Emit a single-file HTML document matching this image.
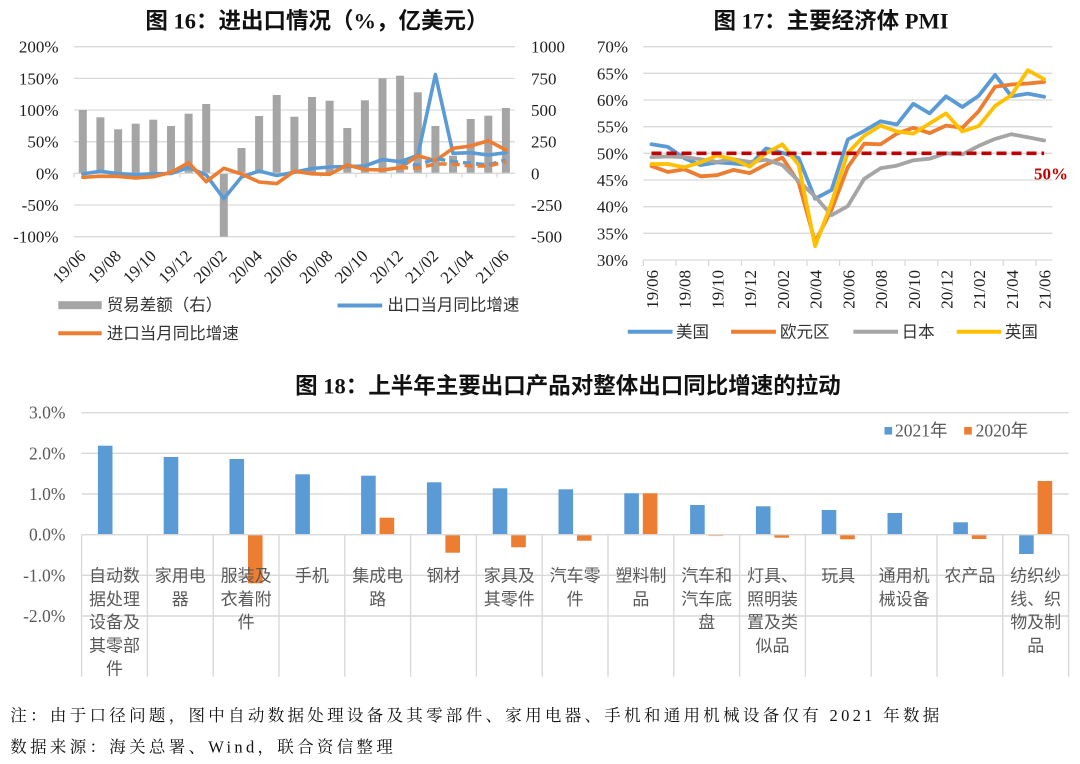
<!DOCTYPE html>
<html><head><meta charset="utf-8"><style>
html,body{margin:0;padding:0;background:#fff;}
svg{display:block;}
.ax{font-family:"Liberation Serif","Noto Serif CJK SC",serif;font-size:17px;fill:#1f1f1f;}
.ax18{font-family:"Liberation Serif","Noto Serif CJK SC",serif;font-size:17.5px;fill:#595959;}
.ttl{font-family:"Liberation Serif","Noto Sans CJK SC",sans-serif;font-size:22.5px;font-weight:bold;fill:#111;}
.lg{font-family:"Liberation Serif","Noto Sans CJK SC",sans-serif;font-size:16.5px;fill:#333;}
.cat{font-family:"Liberation Sans","Noto Sans CJK SC",sans-serif;font-size:17px;fill:#595959;}
.ft{font-family:"Liberation Serif","Noto Serif CJK SC",serif;font-size:16.5px;fill:#111;letter-spacing:3.3px;}
</style></head><body>
<svg width="1080" height="764" viewBox="0 0 1080 764" xmlns="http://www.w3.org/2000/svg">
<rect width="1080" height="764" fill="#fff"/>

<!-- ================= Chart 16 ================= -->
<text class="ttl" x="317" y="28.5" text-anchor="middle">图 16：进出口情况（%，亿美元）</text>
<g stroke="#d9d9d9" stroke-width="1.3">
<line x1="74" y1="46.7" x2="515" y2="46.7"/>
<line x1="74" y1="78.4" x2="515" y2="78.4"/>
<line x1="74" y1="110" x2="515" y2="110"/>
<line x1="74" y1="141.7" x2="515" y2="141.7"/>
<line x1="74" y1="205" x2="515" y2="205"/>
<line x1="74" y1="236.7" x2="515" y2="236.7"/>
</g>
<g class="ax" text-anchor="end">
<text x="58.5" y="52.7">200%</text>
<text x="58.5" y="84.4">150%</text>
<text x="58.5" y="116">100%</text>
<text x="58.5" y="147.7">50%</text>
<text x="58.5" y="179.3">0%</text>
<text x="58.5" y="211">-50%</text>
<text x="58.5" y="242.7">-100%</text>
</g>
<g class="ax" text-anchor="start">
<text x="531" y="52.7">1000</text>
<text x="531" y="84.4">750</text>
<text x="531" y="116">500</text>
<text x="531" y="147.7">250</text>
<text x="531" y="179.3">0</text>
<text x="531" y="211">-250</text>
<text x="531" y="242.7">-500</text>
</g>
<g fill="#a5a5a5">
<rect x="78.8" y="110" width="8" height="63.3"/>
<rect x="96.4" y="117.3" width="8" height="56"/>
<rect x="114.1" y="129.3" width="8" height="44"/>
<rect x="131.7" y="123.7" width="8" height="49.6"/>
<rect x="149.3" y="119.7" width="8" height="53.6"/>
<rect x="167" y="126" width="8" height="47.3"/>
<rect x="184.6" y="113.7" width="8" height="59.6"/>
<rect x="202.2" y="104" width="8" height="69.3"/>
<rect x="219.8" y="173.3" width="8" height="63.4"/>
<rect x="237.5" y="148" width="8" height="25.3"/>
<rect x="255.1" y="116" width="8" height="57.3"/>
<rect x="272.7" y="95" width="8" height="78.3"/>
<rect x="290.4" y="116.7" width="8" height="56.6"/>
<rect x="308" y="97" width="8" height="76.3"/>
<rect x="325.6" y="100.7" width="8" height="72.6"/>
<rect x="343.3" y="128" width="8" height="45.3"/>
<rect x="360.9" y="100.3" width="8" height="73"/>
<rect x="378.5" y="78.3" width="8" height="95"/>
<rect x="396.1" y="75.7" width="8" height="97.6"/>
<rect x="413.8" y="92.3" width="8" height="81"/>
<rect x="431.4" y="126" width="8" height="47.3"/>
<rect x="449" y="155.7" width="8" height="17.6"/>
<rect x="466.7" y="119" width="8" height="54.3"/>
<rect x="484.3" y="115.7" width="8" height="57.6"/>
<rect x="501.9" y="108" width="8" height="65.3"/>
</g>
<!-- axis at 0 -->
<line x1="74" y1="173.3" x2="515" y2="173.3" stroke="#d9d9d9" stroke-width="1.3"/>
<g stroke="#d9d9d9" stroke-width="1.3">
<line x1="74" y1="173.3" x2="74" y2="177.5"/><line x1="109.3" y1="173.3" x2="109.3" y2="177.5"/>
<line x1="144.5" y1="173.3" x2="144.5" y2="177.5"/><line x1="179.8" y1="173.3" x2="179.8" y2="177.5"/>
<line x1="215" y1="173.3" x2="215" y2="177.5"/><line x1="250.3" y1="173.3" x2="250.3" y2="177.5"/>
<line x1="285.6" y1="173.3" x2="285.6" y2="177.5"/><line x1="320.8" y1="173.3" x2="320.8" y2="177.5"/>
<line x1="356.1" y1="173.3" x2="356.1" y2="177.5"/><line x1="391.3" y1="173.3" x2="391.3" y2="177.5"/>
<line x1="426.6" y1="173.3" x2="426.6" y2="177.5"/><line x1="461.9" y1="173.3" x2="461.9" y2="177.5"/>
<line x1="497.1" y1="173.3" x2="497.1" y2="177.5"/>
</g>
<g fill="none" stroke-width="3.6" stroke-linejoin="round" stroke-linecap="round">
<polyline stroke="#5b9bd5" points="82.8,173.9 100.4,171.3 118.1,173.6 135.7,174.6 153.3,173.8 171,173.5 188.6,167.5 206.2,175 223.8,198.7 241.5,177 259.1,171 276.7,175.5 294.4,172.3 312,168.5 329.6,167 347.3,166.5 364.9,166 382.5,159.5 400.1,161.7 417.8,155.5 435.4,74.5 453,153.3 470.7,152.7 488.3,155 505.9,152.7"/>
<polyline stroke="#ed7d31" points="82.8,177.3 100.4,176.2 118.1,176.4 135.7,178 153.3,176.7 171,172.4 188.6,162.7 206.2,181.7 223.8,168.3 241.5,174 259.1,182 276.7,183.6 294.4,171.2 312,173.8 329.6,174.3 347.3,165 364.9,169.5 382.5,170 400.1,167.7 417.8,155.7 435.4,160.7 453,148.3 470.7,146 488.3,140.7 505.9,150"/>
</g>
<g fill="none" stroke-width="3.6" stroke-dasharray="8,5">
<polyline stroke="#5b9bd5" points="400.1,161.7 417.8,165.5 435.4,158.5 453,161.7 470.7,163.3 488.3,165 505.9,160"/>
<polyline stroke="#ed7d31" points="400.1,167.7 417.8,168 435.4,164 453,164 470.7,166 488.3,166 505.9,161.5"/>
</g>
<g class="ax" text-anchor="end">
<text transform="translate(86.8,257) rotate(-45)">19/06</text>
<text transform="translate(122.1,257) rotate(-45)">19/08</text>
<text transform="translate(157.3,257) rotate(-45)">19/10</text>
<text transform="translate(192.6,257) rotate(-45)">19/12</text>
<text transform="translate(227.8,257) rotate(-45)">20/02</text>
<text transform="translate(263.1,257) rotate(-45)">20/04</text>
<text transform="translate(298.4,257) rotate(-45)">20/06</text>
<text transform="translate(333.6,257) rotate(-45)">20/08</text>
<text transform="translate(368.9,257) rotate(-45)">20/10</text>
<text transform="translate(404.1,257) rotate(-45)">20/12</text>
<text transform="translate(439.4,257) rotate(-45)">21/02</text>
<text transform="translate(474.7,257) rotate(-45)">21/04</text>
<text transform="translate(509.9,257) rotate(-45)">21/06</text>
</g>
<!-- legend 16 -->
<rect x="58.3" y="301.2" width="43.4" height="8" fill="#a5a5a5"/>
<text class="lg" x="106.7" y="310.5">贸易差额（右）</text>
<line x1="337.5" y1="305.5" x2="382.2" y2="305.5" stroke="#5b9bd5" stroke-width="4"/>
<text class="lg" x="387.4" y="310.5">出口当月同比增速</text>
<line x1="58.3" y1="333.3" x2="101.7" y2="333.3" stroke="#ed7d31" stroke-width="4"/>
<text class="lg" x="106.7" y="339">进口当月同比增速</text>

<!-- ================= Chart 17 ================= -->
<text class="ttl" x="831" y="28.5" text-anchor="middle">图 17：主要经济体 PMI</text>
<g stroke="#d9d9d9" stroke-width="1.3">
<line x1="643.3" y1="46.7" x2="1052.4" y2="46.7"/>
<line x1="643.3" y1="73.3" x2="1052.4" y2="73.3"/>
<line x1="643.3" y1="100" x2="1052.4" y2="100"/>
<line x1="643.3" y1="126.7" x2="1052.4" y2="126.7"/>
<line x1="643.3" y1="153.3" x2="1052.4" y2="153.3"/>
<line x1="643.3" y1="180" x2="1052.4" y2="180"/>
<line x1="643.3" y1="206.7" x2="1052.4" y2="206.7"/>
<line x1="643.3" y1="233.3" x2="1052.4" y2="233.3"/>
<line x1="643.3" y1="260" x2="1052.4" y2="260"/>
<line x1="643.3" y1="260" x2="643.3" y2="266"/><line x1="676" y1="260" x2="676" y2="266"/>
<line x1="708.7" y1="260" x2="708.7" y2="266"/><line x1="741.5" y1="260" x2="741.5" y2="266"/>
<line x1="774.2" y1="260" x2="774.2" y2="266"/><line x1="806.9" y1="260" x2="806.9" y2="266"/>
<line x1="839.6" y1="260" x2="839.6" y2="266"/><line x1="872.3" y1="260" x2="872.3" y2="266"/>
<line x1="905.1" y1="260" x2="905.1" y2="266"/><line x1="937.8" y1="260" x2="937.8" y2="266"/>
<line x1="970.5" y1="260" x2="970.5" y2="266"/><line x1="1003.2" y1="260" x2="1003.2" y2="266"/>
<line x1="1035.9" y1="260" x2="1035.9" y2="266"/>
</g>
<g class="ax" text-anchor="end">
<text x="628" y="52.7">70%</text>
<text x="628" y="79.3">65%</text>
<text x="628" y="106">60%</text>
<text x="628" y="132.7">55%</text>
<text x="628" y="159.3">50%</text>
<text x="628" y="186">45%</text>
<text x="628" y="212.7">40%</text>
<text x="628" y="239.3">35%</text>
<text x="628" y="266">30%</text>
</g>
<g fill="none" stroke-width="3.8" stroke-linejoin="round" stroke-linecap="round">
<polyline stroke="#5b9bd5" points="651.5,144.3 667.9,146.9 684.2,158.1 700.6,165.1 716.9,162.4 733.3,163.5 749.7,165.1 766,148.5 782.4,152.8 798.7,158.1 815.1,198.7 831.5,190.1 847.8,139.5 864.2,130.9 880.5,121.3 896.9,124.5 913.3,103.8 929.6,113.4 946,96.3 962.3,107 978.7,95.8 995.1,74.9 1011.4,96.3 1027.8,93.6 1044.1,96.8"/>
<polyline stroke="#ed7d31" points="651.5,166.1 667.9,172 684.2,169.3 700.6,176.3 716.9,175.2 733.3,169.9 749.7,173.1 766,164.5 782.4,157.6 798.7,182.7 815.1,241.9 831.5,209.9 847.8,167.2 864.2,143.7 880.5,144.3 896.9,133.6 913.3,127.8 929.6,133.1 946,125.6 962.3,127.8 978.7,111.2 995.1,86.7 1011.4,84.5 1027.8,83.5 1044.1,81.9"/>
<polyline stroke="#a5a5a5" points="651.5,157.1 667.9,156.5 684.2,157.1 700.6,159.2 716.9,161.9 733.3,159.2 749.7,161.9 766,159.7 782.4,165.1 798.7,181.1 815.1,196.5 831.5,215.2 847.8,206.1 864.2,178.9 880.5,168.3 896.9,165.6 913.3,160.3 929.6,158.7 946,153.3 962.3,154.4 978.7,145.9 995.1,138.9 1011.4,134.2 1027.8,137.3 1044.1,140.5"/>
<polyline stroke="#ffc000" points="651.5,164 667.9,164 684.2,167.2 700.6,162.4 716.9,155.5 733.3,159.2 749.7,166.7 766,153.3 782.4,144.3 798.7,165.1 815.1,246.1 831.5,202.9 847.8,152.8 864.2,135.8 880.5,125.6 896.9,131.5 913.3,133.6 929.6,123.5 946,113.4 962.3,131.5 978.7,126.1 995.1,105.9 1011.4,95.2 1027.8,70.2 1044.1,79.2"/>
</g>
<line x1="651.5" y1="153.3" x2="1044.1" y2="153.3" stroke="#c00000" stroke-width="3.6" stroke-dasharray="10,5"/>
<text x="1034" y="179.5" font-family="Liberation Serif, serif" font-size="17" font-weight="bold" fill="#c00000">50%</text>
<g class="ax" text-anchor="end">
<text transform="translate(658,270) rotate(-90)">19/06</text>
<text transform="translate(690.7,270) rotate(-90)">19/08</text>
<text transform="translate(723.4,270) rotate(-90)">19/10</text>
<text transform="translate(756.2,270) rotate(-90)">19/12</text>
<text transform="translate(788.9,270) rotate(-90)">20/02</text>
<text transform="translate(821.6,270) rotate(-90)">20/04</text>
<text transform="translate(854.3,270) rotate(-90)">20/06</text>
<text transform="translate(887,270) rotate(-90)">20/08</text>
<text transform="translate(919.8,270) rotate(-90)">20/10</text>
<text transform="translate(952.5,270) rotate(-90)">20/12</text>
<text transform="translate(985.2,270) rotate(-90)">21/02</text>
<text transform="translate(1017.9,270) rotate(-90)">21/04</text>
<text transform="translate(1050.6,270) rotate(-90)">21/06</text>
</g>
<!-- legend 17 -->
<line x1="627.8" y1="331.7" x2="672.6" y2="331.7" stroke="#5b9bd5" stroke-width="4"/>
<text class="lg" x="676" y="337.5">美国</text>
<line x1="731.1" y1="331.7" x2="775.9" y2="331.7" stroke="#ed7d31" stroke-width="4"/>
<text class="lg" x="780" y="337.5">欧元区</text>
<line x1="853.4" y1="331.7" x2="898.1" y2="331.7" stroke="#a5a5a5" stroke-width="4"/>
<text class="lg" x="901.6" y="337.5">日本</text>
<line x1="956.7" y1="331.7" x2="1001.4" y2="331.7" stroke="#ffc000" stroke-width="4"/>
<text class="lg" x="1004.9" y="337.5">英国</text>

<!-- ================= Chart 18 ================= -->
<text class="ttl" x="568" y="393.5" text-anchor="middle">图 18：上半年主要出口产品对整体出口同比增速的拉动</text>
<g stroke="#d9d9d9" stroke-width="1.4">
<line x1="81.6" y1="412.7" x2="1068.6" y2="412.7"/>
<line x1="81.6" y1="453.3" x2="1068.6" y2="453.3"/>
<line x1="81.6" y1="494" x2="1068.6" y2="494"/>
<line x1="81.6" y1="575.3" x2="1068.6" y2="575.3"/>
<line x1="81.6" y1="616" x2="1068.6" y2="616"/>
<line x1="81.6" y1="534.7" x2="81.6" y2="676.7"/>
<line x1="147.4" y1="534.7" x2="147.4" y2="676.7"/>
<line x1="213.2" y1="534.7" x2="213.2" y2="676.7"/>
<line x1="279" y1="534.7" x2="279" y2="676.7"/>
<line x1="344.8" y1="534.7" x2="344.8" y2="676.7"/>
<line x1="410.6" y1="534.7" x2="410.6" y2="676.7"/>
<line x1="476.4" y1="534.7" x2="476.4" y2="676.7"/>
<line x1="542.2" y1="534.7" x2="542.2" y2="676.7"/>
<line x1="608" y1="534.7" x2="608" y2="676.7"/>
<line x1="673.8" y1="534.7" x2="673.8" y2="676.7"/>
<line x1="739.6" y1="534.7" x2="739.6" y2="676.7"/>
<line x1="805.4" y1="534.7" x2="805.4" y2="676.7"/>
<line x1="871.2" y1="534.7" x2="871.2" y2="676.7"/>
<line x1="937" y1="534.7" x2="937" y2="676.7"/>
<line x1="1002.8" y1="534.7" x2="1002.8" y2="676.7"/>
<line x1="1068.6" y1="534.7" x2="1068.6" y2="676.7"/>
</g>
<g class="ax18" text-anchor="end">
<text x="65.4" y="418.7">3.0%</text>
<text x="65.4" y="459.3">2.0%</text>
<text x="65.4" y="500">1.0%</text>
<text x="65.4" y="540.7">0.0%</text>
<text x="65.4" y="581.3">-1.0%</text>
<text x="65.4" y="622">-2.0%</text>
</g>
<g fill="#5b9bd5">
<rect x="97.9" y="445.7" width="14.6" height="89"/>
<rect x="163.7" y="457" width="14.6" height="77.7"/>
<rect x="229.5" y="459" width="14.6" height="75.7"/>
<rect x="295.3" y="474.3" width="14.6" height="60.4"/>
<rect x="361.1" y="475.7" width="14.6" height="59"/>
<rect x="426.9" y="482.3" width="14.6" height="52.4"/>
<rect x="492.7" y="488.3" width="14.6" height="46.4"/>
<rect x="558.5" y="489.3" width="14.6" height="45.4"/>
<rect x="624.3" y="493.3" width="14.6" height="41.4"/>
<rect x="690.1" y="505" width="14.6" height="29.7"/>
<rect x="755.9" y="506.3" width="14.6" height="28.4"/>
<rect x="821.7" y="510" width="14.6" height="24.7"/>
<rect x="887.5" y="513" width="14.6" height="21.7"/>
<rect x="953.3" y="522.3" width="14.6" height="12.4"/>
<rect x="1019.1" y="534.7" width="14.6" height="19.3"/>
</g>
<g fill="#ed7d31">
<rect x="248" y="534.7" width="14.6" height="48.6"/>
<rect x="379.6" y="517.7" width="14.6" height="17"/>
<rect x="445.4" y="534.7" width="14.6" height="18"/>
<rect x="511.2" y="534.7" width="14.6" height="12.6"/>
<rect x="577" y="534.7" width="14.6" height="6"/>
<rect x="642.8" y="493.3" width="14.6" height="41.4"/>
<rect x="708.6" y="534.7" width="14.6" height="1.4" fill="#f4b183"/>
<rect x="774.4" y="534.7" width="14.6" height="3"/>
<rect x="840.2" y="534.7" width="14.6" height="4.6"/>
<rect x="971.8" y="534.7" width="14.6" height="4.3"/>
<rect x="1037.6" y="481" width="14.6" height="53.7"/>
</g>
<line x1="81.6" y1="534.7" x2="1068.6" y2="534.7" stroke="#d9d9d9" stroke-width="1.4"/>
<!-- legend 18 -->
<rect x="884.5" y="427" width="7.6" height="7.6" fill="#5b9bd5"/>
<text class="ax18" x="895" y="436.5" font-size="17">2021<tspan font-family="Noto Sans CJK SC, sans-serif">年</tspan></text>
<rect x="964.2" y="427" width="7.6" height="7.6" fill="#ed7d31"/>
<text class="ax18" x="975.6" y="436.5" font-size="17">2020<tspan font-family="Noto Sans CJK SC, sans-serif">年</tspan></text>
<!-- category labels -->
<g class="cat" text-anchor="middle">
<text x="114.5" y="581.5">自动数</text><text x="114.5" y="604.8">据处理</text><text x="114.5" y="628.1">设备及</text><text x="114.5" y="651.4">其零部</text><text x="114.5" y="674.7">件</text>
<text x="180.3" y="581.5">家用电</text><text x="180.3" y="604.8">器</text>
<text x="246.1" y="581.5">服装及</text><text x="246.1" y="604.8">衣着附</text><text x="246.1" y="628.1">件</text>
<text x="311.9" y="581.5">手机</text>
<text x="377.7" y="581.5">集成电</text><text x="377.7" y="604.8">路</text>
<text x="443.5" y="581.5">钢材</text>
<text x="509.3" y="581.5">家具及</text><text x="509.3" y="604.8">其零件</text>
<text x="575.1" y="581.5">汽车零</text><text x="575.1" y="604.8">件</text>
<text x="640.9" y="581.5">塑料制</text><text x="640.9" y="604.8">品</text>
<text x="706.7" y="581.5">汽车和</text><text x="706.7" y="604.8">汽车底</text><text x="706.7" y="628.1">盘</text>
<text x="772.5" y="581.5">灯具、</text><text x="772.5" y="604.8">照明装</text><text x="772.5" y="628.1">置及类</text><text x="772.5" y="651.4">似品</text>
<text x="838.3" y="581.5">玩具</text>
<text x="904.1" y="581.5">通用机</text><text x="904.1" y="604.8">械设备</text>
<text x="969.9" y="581.5">农产品</text>
<text x="1035.7" y="581.5">纺织纱</text><text x="1035.7" y="604.8">线、织</text><text x="1035.7" y="628.1">物及制</text><text x="1035.7" y="651.4">品</text>
</g>

<!-- footer -->
<text class="ft" x="10.3" y="721">注：由于口径问题，图中自动数据处理设备及其零部件、家用电器、手机和通用机械设备仅有 2021 年数据</text>
<text class="ft" x="10.3" y="752.5">数据来源：海关总署、Wind，联合资信整理</text>
</svg>
</body></html>
